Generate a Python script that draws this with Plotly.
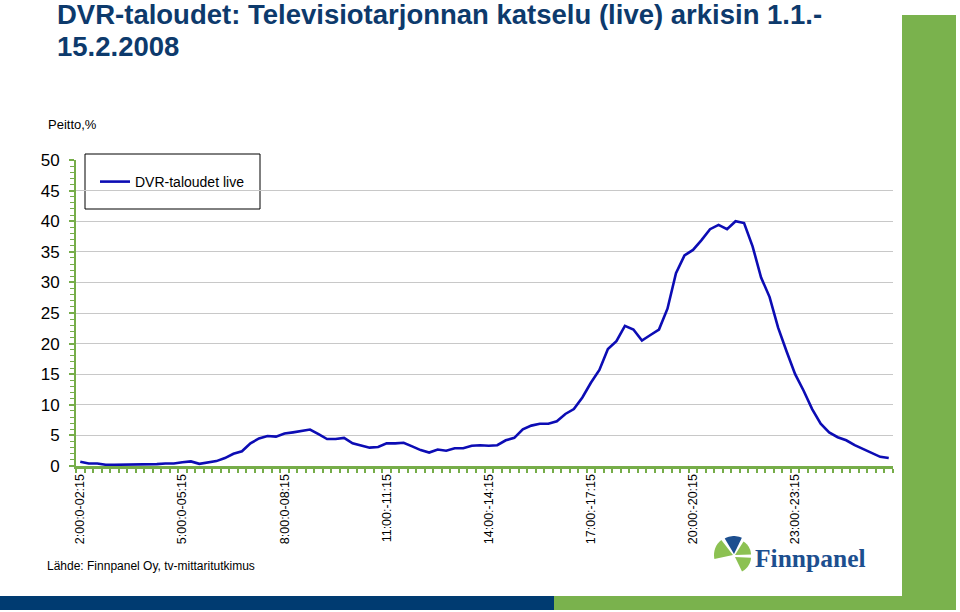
import math
import plotly.graph_objects as go

# ---------------- data ----------------
time_slots = [f"{(2 + q // 4) % 24}:{(q % 4) * 15:02d}" for q in range(96)]

dvr_live = [
    0.7, 0.4, 0.4, 0.2, 0.2, 0.2, 0.2, 0.2, 0.2, 0.3, 0.4, 0.4,
    0.6, 0.75, 0.35, 0.55, 0.8, 1.3, 2.0, 2.4, 3.7, 4.5, 4.9, 4.8,
    5.3, 5.5, 5.7, 5.95, 5.2, 4.4, 4.4, 4.6, 3.7, 3.4, 3.0, 3.1,
    3.7, 3.7, 3.8, 3.2, 2.6, 2.2, 2.7, 2.5, 2.9, 2.9, 3.3, 3.4,
    3.3, 3.4, 4.2, 4.6, 6.0, 6.6, 6.9, 6.9, 7.3, 8.5, 9.3, 11.2,
    13.6, 15.7, 19.1, 20.4, 22.9, 22.3, 20.5, 21.4, 22.3, 25.7, 31.5, 34.4,
    35.3, 36.9, 38.7, 39.4, 38.7, 40.0, 39.7, 35.9, 30.8, 27.6, 22.6, 18.7,
    15.0, 12.3, 9.3, 6.9, 5.5, 4.7, 4.2, 3.4, 2.8, 2.2, 1.5, 1.3,
]

tick_slots = ["2:00", "5:00", "8:00", "11:00", "14:00", "17:00", "20:00", "23:00"]
tick_labels = ["2:00:0-02:15", "5:00:0-05:15", "8:00:0-08:15", "11:00:-11:15",
               "14:00:-14:15", "17:00:-17:15", "20:00:-20:15", "23:00:-23:15"]

series_name = "DVR-taloudet live"
title_line1 = "DVR-taloudet: Televisiotarjonnan katselu (live) arkisin 1.1.-"
title_line2 = "15.2.2008"
y_title = "Peitto,%"
source_text = "Lähde: Finnpanel Oy, tv-mittaritutkimus"
logo_text = "Finnpanel"

# ---------------- layout geometry ----------------
W, H = 960, 612
ML, MR, MT, MB = 76, 67, 160, 146
PW, PH = W - ML - MR, H - MT - MB


def fx(px):
    return (px - ML) / PW


def fy(py):
    return (H - MB - py) / PH


GREEN = "#7ab24d"
AXGREEN = "#76ad49"
NAVY = "#003b71"
TITLE_BLUE = "#0d3a6c"
LINE_BLUE = "#0c0cb4"
FONT = "Liberation Sans, Arial, sans-serif"

ticktext = [tick_labels[tick_slots.index(s)] if s in tick_slots else "" for s in time_slots]

fig = go.Figure()
fig.add_trace(go.Scatter(
    x=time_slots, y=dvr_live, mode="lines", name=series_name,
    line=dict(color=LINE_BLUE, width=2.6),
))

shapes = []
# right green bar
shapes.append(dict(type="rect", xref="paper", yref="paper", layer="below",
                   x0=fx(902), x1=fx(956), y0=fy(610), y1=fy(15),
                   fillcolor=GREEN, line=dict(width=0)))
# bottom bars
shapes.append(dict(type="rect", xref="paper", yref="paper", layer="below",
                   x0=fx(0), x1=fx(554), y0=fy(610), y1=fy(596),
                   fillcolor=NAVY, line=dict(width=0)))
shapes.append(dict(type="rect", xref="paper", yref="paper", layer="below",
                   x0=fx(554), x1=fx(956), y0=fy(610), y1=fy(596),
                   fillcolor=GREEN, line=dict(width=0)))
# legend box
shapes.append(dict(type="rect", xref="paper", yref="paper",
                   x0=fx(85), x1=fx(260), y0=fy(209), y1=fy(154),
                   fillcolor="white", line=dict(color="black", width=1), layer="below"))


# logo wedges
def wedge(cx, cy, r, a0, a1, color):
    pts = []
    n = 12
    for k in range(n + 1):
        a = math.radians(a0 + (a1 - a0) * k / n)
        pts.append((cx + r * math.cos(a), cy - r * math.sin(a)))
    path = f"M {fx(cx):.5f},{fy(cy):.5f} " + " ".join(
        f"L {fx(px):.5f},{fy(py):.5f}" for px, py in pts) + " Z"
    return dict(type="path", xref="paper", yref="paper", path=path,
                fillcolor=color, line=dict(width=0))


LOGO_LIGHT = "#8cc152"
LOGO_DARK = "#1d4f8f"
cx, cy = 734, 556
shapes.append(wedge(cx - 1, cy - 1, 19, 128, 192, LOGO_LIGHT))
shapes.append(wedge(cx, cy - 2, 18, 64, 121, LOGO_DARK))
shapes.append(wedge(cx + 1, cy - 1, 16, 2, 58, LOGO_LIGHT))
shapes.append(wedge(cx + 1, cy + 1, 16, -64, -3, LOGO_LIGHT))

annotations = [
    dict(text=f"<b>{title_line1}</b>", x=fx(55), y=fy(14.5), xref="paper", yref="paper",
         xanchor="left", yanchor="middle", showarrow=False,
         font=dict(family=FONT, size=27.5, color=TITLE_BLUE)),
    dict(text=f"<b>{title_line2}</b>", x=fx(55), y=fy(46), xref="paper", yref="paper",
         xanchor="left", yanchor="middle", showarrow=False,
         font=dict(family=FONT, size=27.5, color=TITLE_BLUE)),
    dict(text=y_title, x=fx(46), y=fy(124), xref="paper", yref="paper",
         xanchor="left", yanchor="middle", showarrow=False,
         font=dict(family=FONT, size=13, color="black")),
    dict(text=source_text, x=fx(45), y=fy(566), xref="paper", yref="paper",
         xanchor="left", yanchor="middle", showarrow=False,
         font=dict(family=FONT, size=12, color="black")),
    dict(text=f"<b>{logo_text}</b>", x=fx(753), y=fy(558), xref="paper", yref="paper",
         xanchor="left", yanchor="middle", showarrow=False,
         font=dict(family="Liberation Serif, DejaVu Serif, serif", size=25.5, color=LOGO_DARK)),
]

fig.update_layout(
    width=W, height=H,
    margin=dict(l=ML, r=MR, t=MT, b=MB, pad=0),
    paper_bgcolor="white", plot_bgcolor="rgba(0,0,0,0)",
    font=dict(family=FONT, color="black"),
    showlegend=True,
    legend=dict(x=fx(95), y=fy(182), xanchor="left", yanchor="middle",
                bgcolor="rgba(0,0,0,0)", borderwidth=0,
                font=dict(family=FONT, size=14, color="black"),
                itemwidth=30),
    shapes=shapes,
    annotations=annotations,
    xaxis=dict(
        type="category", tickmode="array", tickvals=time_slots, ticktext=ticktext,
        tickangle=-90, tickson="boundaries", ticks="outside", ticklen=4, tickwidth=2,
        tickcolor=AXGREEN, showline=True, linecolor=AXGREEN, linewidth=3,
        showgrid=False, zeroline=False, automargin=False,
        tickfont=dict(family=FONT, size=12.5, color="black"),
        range=[-0.5, 95.5],
    ),
    yaxis=dict(
        range=[0, 50], tickmode="linear", tick0=0, dtick=5,
        ticks="outside", ticklen=5, tickwidth=1.5, tickcolor=AXGREEN,
        showline=True, linecolor=AXGREEN, linewidth=2,
        showgrid=True, gridcolor="#c8c8c8", gridwidth=1.3, zeroline=False,
        minor=dict(dtick=1, ticks="outside", ticklen=4, tickwidth=1.2,
                   tickcolor=AXGREEN, showgrid=False),
        tickfont=dict(family=FONT, size=17, color="black"),
        ticklabelstandoff=6, automargin=False,
    ),
)

fig.write_html("out.html", config={"displayModeBar": False},
               post_script="document.body.style.margin='0';")
